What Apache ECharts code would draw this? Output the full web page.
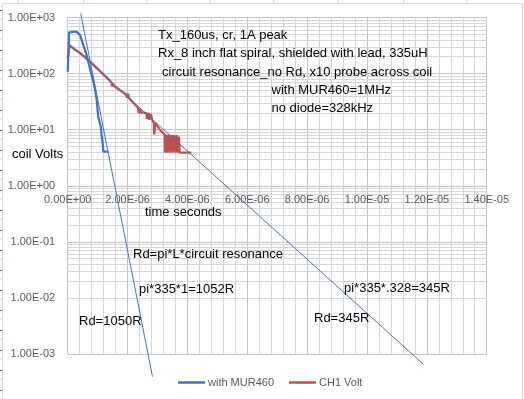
<!DOCTYPE html>
<html>
<head>
<meta charset="utf-8">
<script src="https://cdn.jsdelivr.net/npm/echarts@6/dist/echarts.min.js"></script>
<style>
html,body{margin:0;padding:0;background:#fff;}
#c{width:524px;height:399px;}
</style>
</head>
<body>
<div id="c"></div>
<script>
// ---- data (time in microseconds, voltage in volts) ----
const blueTimeUs = [0, 0.05, 0.09, 0.30, 0.36, 0.41, 0.52, 0.63, 0.74, 0.85, 0.92, 0.97, 1.02, 1.06, 1.11, 1.13, 1.17, 1.19, 1.35];
const blueVolts  = [108, 545, 562, 558, 529, 488, 324, 215, 124, 75, 50, 34, 17, 14, 11.3, 8, 5.7, 4.06, 4.06];

const redTimeUs = [0, 0.06, 0.24, 0.41, 0.63, 0.91, 1.08, 1.24, 1.41, 1.47, 1.48, 1.53, 1.55, 1.58, 1.74, 1.97, 1.98, 2.02, 2.04, 2.08, 2.20, 2.35, 2.37, 2.42, 2.45, 2.52, 2.63, 2.65, 2.70, 2.73, 2.78, 2.82, 2.88, 2.89, 2.93, 2.95, 3.08, 3.24, 3.25, 3.30, 3.33, 3.38, 3.42, 3.47, 3.51, 3.55, 3.60, 3.64, 3.68, 3.72, 3.74, 4.13];
const redVolts  = [188, 317, 269, 233, 188, 136, 111, 91, 75, 68, 60, 66, 60, 62, 51, 42, 37, 44, 37, 38, 30, 24.5, 20, 23.5, 19.8, 20.5, 19.5, 15.5, 20, 15, 19, 15, 13.2, 8.2, 13, 12, 10, 8.2, 3.9, 8.2, 3.9, 8.2, 3.9, 8.1, 3.9, 8.0, 3.9, 8.0, 3.9, 7.5, 3.9, 3.9];

// exponential trendlines (straight on log axis): endpoints
const trendATimeUs = [0.433, 2.833];
const trendAVolts  = [1189, 0.000395];
const trendBTimeUs = [-1.03, 11.88];
const trendBVolts  = [1109, 0.000658];

const xTickInterval = 2e-6;
const xMax = 1.4e-5;
const yMin = 1e-3, yMax = 1e3;
const seriesNames = ['with MUR460', 'CH1 Volt'];

const annotations = [
  {t: 'Tx_160us, cr, 1A peak', x: 158, y: 35},
  {t: 'Rx_8 inch flat spiral, shielded with lead, 335uH', x: 158, y: 53},
  {t: 'circuit resonance_no Rd, x10 probe across coil', x: 162, y: 72},
  {t: 'with MUR460=1MHz', x: 271.5, y: 90},
  {t: 'no diode=328kHz', x: 271.5, y: 108},
  {t: 'coil Volts', x: 12, y: 154},
  {t: 'time seconds', x: 145, y: 212},
  {t: 'Rd=pi*L*circuit resonance', x: 133, y: 254},
  {t: 'pi*335*1=1052R', x: 139, y: 289},
  {t: 'Rd=1050R', x: 79, y: 321},
  {t: 'pi*335*.328=345R', x: 344, y: 288},
  {t: 'Rd=345R', x: 314, y: 318}
];

// ---- helpers ----
function expFmt(v) {
  if (v === 0) return '0.00E+00';
  const s = Number(v).toExponential(2);
  const parts = s.split('e');
  const e = parseInt(parts[1], 10);
  const sign = e < 0 ? '-' : '+';
  const d = Math.abs(e);
  return parts[0] + 'E' + sign + (d < 10 ? '0' : '') + d;
}
function pairs(tu, v) { return tu.map((t, i) => [t * 1e-6, v[i]]); }

const minorY = [];
for (let k = -3; k < 3; k++) for (let m = 2; m <= 9; m++) minorY.push(m * Math.pow(10, k));

const FONT = '"Liberation Sans", Arial, sans-serif';
const gridLeft = 67.7, gridTop = 17.5, gridW = 419, gridH = 336.5;
const yOneOffset = -(gridH / 2); // value 1 sits in the middle of the 6-decade range

const graphics = [];
graphics.push({type: 'rect', z: -10, shape: {x: 2.5, y: 3.5, width: 520, height: 400}, style: {fill: '#fff', stroke: '#d9d9d9', lineWidth: 1}});
[18.5, 83.5, 147, 210.5, 273.5, 338.5, 403.5, 467].forEach(x => {
  graphics.push({type: 'line', z: -10, shape: {x1: x, y1: 0, x2: x, y2: 3.5}, style: {stroke: '#d4d4d4', lineWidth: 1}});
});
for (let k = 0; k < 20; k++) {
  graphics.push({type: 'line', z: -10, shape: {x1: 0, y1: 10.5 + 20 * k, x2: 2, y2: 10.5 + 20 * k}, style: {stroke: '#2b4c9b', lineWidth: 1}});
  graphics.push({type: 'line', z: -10, shape: {x1: 0, y1: 19 + 20 * k, x2: 2, y2: 19 + 20 * k}, style: {stroke: '#d4d4d4', lineWidth: 1}});
}
annotations.forEach(a => {
  graphics.push({type: 'text', z: 100, style: {text: a.t, x: a.x, y: a.y, fill: '#000', fontSize: 13, fontFamily: FONT, verticalAlign: 'middle', align: 'left'}});
});

const chart = echarts.init(document.getElementById('c'), null, {renderer: 'canvas'});
chart.setOption({
  animation: false,
  backgroundColor: 'transparent',
  grid: {left: gridLeft, top: gridTop, width: gridW, height: gridH, containLabel: false},
  xAxis: {
    type: 'value', min: 0, max: xMax, interval: xTickInterval,
    offset: yOneOffset,
    axisLine: {show: true, lineStyle: {color: '#bfbfbf', width: 1}},
    axisTick: {show: false},
    axisLabel: {formatter: expFmt, color: '#595959', fontSize: 11, fontFamily: FONT, margin: 9},
    splitLine: {show: true, lineStyle: {color: '#c4c4c4', width: 1}},
    minorTick: {show: false, splitNumber: 5},
    minorSplitLine: {show: true, lineStyle: {color: '#d6d6d6', width: 1}}
  },
  yAxis: {
    type: 'log', logBase: 10, min: yMin, max: yMax,
    axisLine: {show: false},
    axisTick: {show: false},
    axisLabel: {formatter: expFmt, color: '#595959', fontSize: 11, fontFamily: FONT, margin: 12.5},
    splitLine: {show: true, lineStyle: {color: '#c4c4c4', width: 1}},
    minorSplitLine: {show: false}
  },
  legend: {
    data: [{name: seriesNames[0], icon: 'rect'}, {name: seriesNames[1], icon: 'rect'}],
    left: 173, top: 372, itemWidth: 27, itemHeight: 2.5, itemGap: 15,
    textStyle: {color: '#595959', fontSize: 11, fontFamily: FONT, padding: [0, 0, 0, -2]}
  },
  graphic: graphics,
  series: [
    {
      name: 'minorGrid', type: 'line', data: [[0, 1]], showSymbol: false, silent: true,
      lineStyle: {opacity: 0}, z: 0,
      markLine: {
        silent: true, symbol: 'none', animation: false, z: 0,
        label: {show: false},
        lineStyle: {color: '#d6d6d6', width: 1, type: 'solid'},
        data: minorY.map(v => ({yAxis: v}))
      }
    },
    {
      name: seriesNames[1], type: 'line', data: pairs(redTimeUs, redVolts),
      showSymbol: false, color: '#C0504D', lineStyle: {width: 2.25, color: '#C0504D'}, z: 3
    },
    {
      name: seriesNames[0], type: 'line', data: pairs(blueTimeUs, blueVolts),
      showSymbol: false, color: '#4472C4', lineStyle: {width: 2.25, color: '#4472C4'}, z: 4
    },
    {
      name: 'trendA', type: 'line', data: pairs(trendATimeUs, trendAVolts),
      showSymbol: false, clip: false, silent: true, lineStyle: {width: 1, color: '#4472C4'}, z: 5
    },
    {
      name: 'trendB', type: 'line', data: pairs(trendBTimeUs, trendBVolts),
      showSymbol: false, clip: false, silent: true, lineStyle: {width: 1, color: '#4472C4'}, z: 5
    }
  ]
});
</script>
</body>
</html>
